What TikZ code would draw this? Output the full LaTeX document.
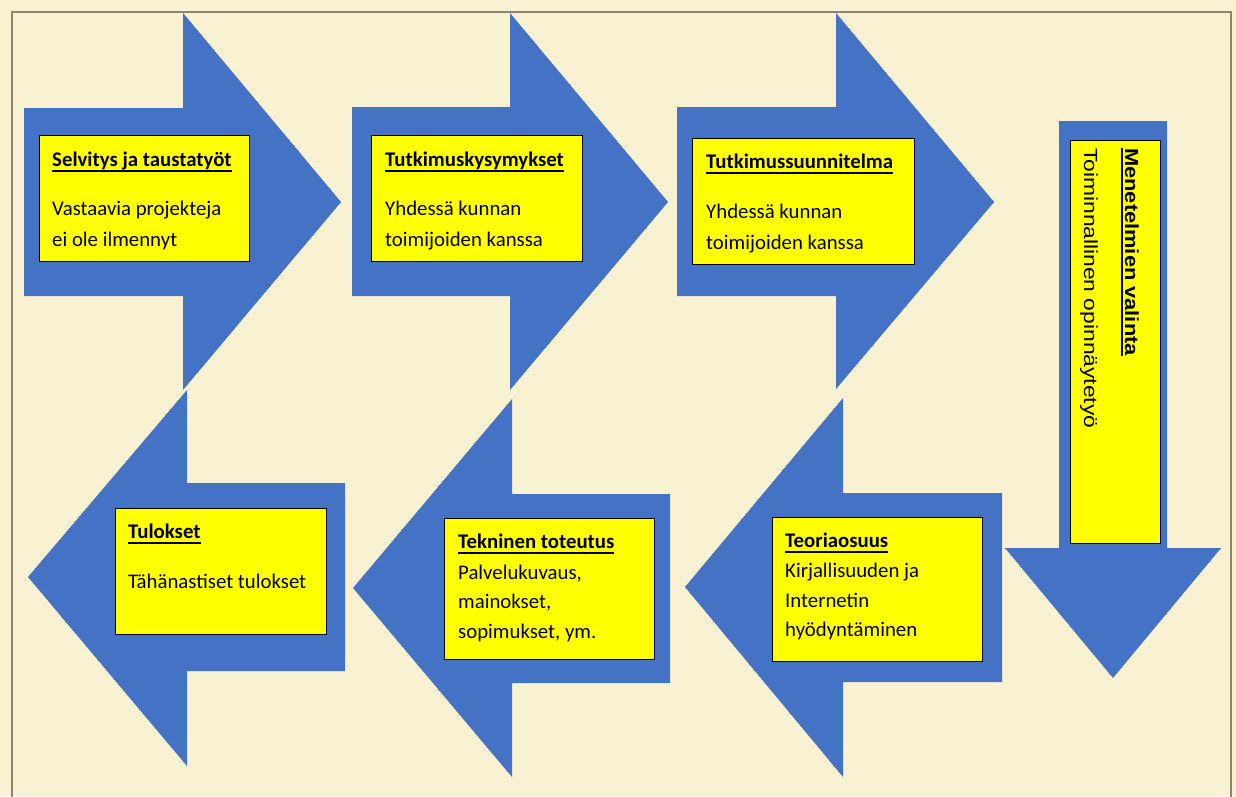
\documentclass[tikz,border=0pt]{standalone}
\usepackage{fontspec}
\usepackage{graphicx}
\setmainfont{Carlito}
\newfontfamily\arialf{Liberation Sans}
\definecolor{bgcream}{HTML}{F8F2D3}
\definecolor{framegrey}{HTML}{8C8670}
\definecolor{arrowblue}{HTML}{4472C4}
\definecolor{boxyellow}{HTML}{FFFF00}
\newcommand\ttl[1]{\setbox0\hbox{\bfseries #1}\rlap{\rule[-5.7pt]{\wd0}{1.4pt}}\box0}
\newcommand\vttl[1]{\setbox0\hbox{\bfseries #1}\rlap{\rule[-3.8pt]{\wd0}{1.4pt}}\box0}
\begin{document}
\begin{tikzpicture}[x=1pt,y=-1pt,
  arrowshape/.style={fill=arrowblue},
  ybox/.style={draw=black, line width=1.3pt, fill=boxyellow, anchor=north west, inner sep=0pt},
  ttext/.style={anchor=base west, inner sep=0pt, font=\fontsize{20.8}{24}\selectfont, text=black},
  vtext/.style={anchor=base west, inner sep=0pt, rotate=-90, font=\arialf\fontsize{19}{23}\selectfont, text=black}]
\fill[bgcream] (0,0) rectangle (1236,796);
\useasboundingbox (0,0) rectangle (1236,796);
\draw[framegrey, line width=1.8pt] (12,810) -- (12,12) -- (1231,12) -- (1231,810);

% upper arrows (right-pointing)
\fill[arrowshape] (24,108) -- (183,108) -- (183,13) -- (341,202) -- (183,390) -- (183,296) -- (24,296) -- cycle;
\fill[arrowshape] (352,107) -- (510,107) -- (510,13) -- (668,202) -- (510,390) -- (510,296) -- (352,296) -- cycle;
\fill[arrowshape] (677,107) -- (836,107) -- (836,13) -- (994,202) -- (836,389) -- (836,296) -- (677,296) -- cycle;
% down arrow
\fill[arrowshape] (1059,121) -- (1167,121) -- (1167,548) -- (1221,548) -- (1113,678) -- (1005,548) -- (1059,548) -- cycle;
% lower arrows (left-pointing)
\fill[arrowshape] (345,483) -- (187,483) -- (187,390) -- (28,577) -- (187,766) -- (187,671) -- (345,671) -- cycle;
\fill[arrowshape] (670,494) -- (512,494) -- (512,399) -- (353,588) -- (512,777) -- (512,683) -- (670,683) -- cycle;
\fill[arrowshape] (1002,493) -- (843,493) -- (843,398) -- (685,587) -- (843,777) -- (843,682) -- (1002,682) -- cycle;

% yellow boxes
\node[ybox, minimum width=210pt, minimum height=126pt] (b1) at (39,135) {};
\node[ybox, minimum width=211pt, minimum height=126pt] (b2) at (371,135) {};
\node[ybox, minimum width=222pt, minimum height=126pt] (b3) at (692,138) {};
\node[ybox, minimum width=90pt, minimum height=403pt] (b4) at (1070,140) {};
\node[ybox, minimum width=211pt, minimum height=126pt] (b5) at (115,508) {};
\node[ybox, minimum width=210pt, minimum height=141pt] (b6) at (444,518) {};
\node[ybox, minimum width=210pt, minimum height=144pt] (b7) at (772,517) {};

% texts box 1
\node[ttext] (t1a) at (52,166) {\ttl{Selvitys ja taustatyöt}};
\node[ttext] (t1b) at (52,215) {Vastaavia projekteja};
\node[ttext] (t1c) at (52,246) {ei ole ilmennyt};
% box 2
\node[ttext] (t2a) at (385,166) {\ttl{Tutkimuskysymykset}};
\node[ttext] (t2b) at (385,215) {Yhdessä kunnan};
\node[ttext] (t2c) at (385,246) {toimijoiden kanssa};
% box 3
\node[ttext] (t3a) at (706,168) {\ttl{Tutkimussuunnitelma}};
\node[ttext] (t3b) at (706,218) {Yhdessä kunnan};
\node[ttext] (t3c) at (706,249) {toimijoiden kanssa};
% box 4 (vertical)
\node[vtext] (t4a) at (1125,148) {\scalebox{1.15}[1]{\vttl{Menetelmien valinta}}};
\node[vtext] (t4b) at (1084,148) {\scalebox{1.2}[1]{Toiminnallinen opinnäytetyö}};
% box 5
\node[ttext] (t5a) at (128,538) {\ttl{Tulokset}};
\node[ttext] (t5b) at (128,588) {Tähänastiset tulokset};
% box 6
\node[ttext] (t6a) at (458,548) {\ttl{Tekninen toteutus}};
\node[ttext] (t6b) at (458,579) {Palvelukuvaus,};
\node[ttext] (t6c) at (458,608) {mainokset,};
\node[ttext] (t6d) at (458,638) {sopimukset, ym.};
% box 7
\node[ttext] (t7a) at (785,547) {\ttl{Teoriaosuus}};
\node[ttext] (t7b) at (785,577) {Kirjallisuuden ja};
\node[ttext] (t7c) at (785,607) {Internetin};
\node[ttext] (t7d) at (785,636) {hyödyntäminen};
\end{tikzpicture}
\end{document}
